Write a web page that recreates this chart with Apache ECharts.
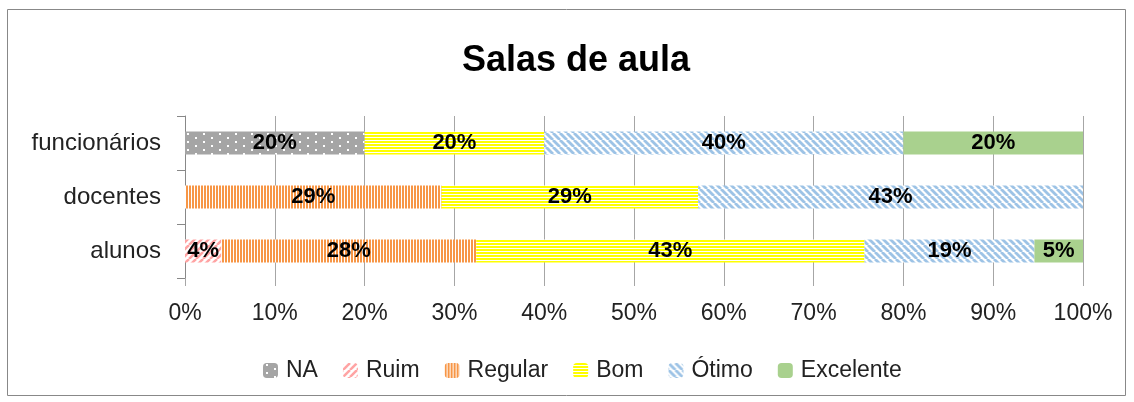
<!DOCTYPE html>
<html><head><meta charset="utf-8">
<script src="https://cdn.jsdelivr.net/npm/echarts@6/dist/echarts.min.js"></script>
<style>html,body{margin:0;padding:0;background:#fff}#c{width:1134px;height:402px}</style>
</head><body><div id="c"></div>
<script>
const categories = ['alunos', 'docentes', 'funcionários'];
const seriesNames = ['NA', 'Ruim', 'Regular', 'Bom', 'Ótimo', 'Excelente'];
const valNA = [null, null, 20];
const valRuim = [4.05, null, null];
const valRegular = [28.38, 28.57, null];
const valBom = [43.24, 28.57, 20];
const valOtimo = [18.92, 42.86, 40];
const valExcelente = [5.41, null, 20];
const xTicks = [0, 10, 20, 30, 40, 50, 60, 70, 80, 90, 100];

function tile(w, h, draw) {
  const c = document.createElement('canvas');
  c.width = w; c.height = h;
  const g = c.getContext('2d');
  draw(g, w, h);
  return { image: c, repeat: 'repeat' };
}
const patNA = tile(16, 8, (g, w, h) => {
  g.fillStyle = '#A5A5A5'; g.fillRect(0, 0, w, h);
  g.fillStyle = '#FFFFFF'; g.fillRect(3, 1, 2, 2); g.fillRect(11, 5, 2, 2);
});
function diag(color, dir, lw) {
  return tile(7, 7, (g, w, h) => {
    g.fillStyle = '#FFFFFF'; g.fillRect(0, 0, w, h);
    g.strokeStyle = color; g.lineWidth = lw;
    for (let x = -7; x <= 7; x += 7) {
      g.beginPath();
      if (dir > 0) { g.moveTo(x, 7); g.lineTo(x + 7, 0); }
      else { g.moveTo(x, 0); g.lineTo(x + 7, 7); }
      g.stroke();
    }
  });
}
const patRuim = diag('#FFA3A3', 1, 2.5);
const patOtimo = diag('#9DC3E6', -1, 2.8);
const patRegular = tile(3, 4, (g, w, h) => {
  g.fillStyle = '#FFFFFF'; g.fillRect(0, 0, w, h);
  g.fillStyle = '#F79646'; g.fillRect(0, 0, 2, h);
});
const patBom = tile(4, 3, (g, w, h) => {
  g.fillStyle = '#FFFFFF'; g.fillRect(0, 0, w, h);
  g.fillStyle = '#FFFF00'; g.fillRect(0, 0, w, 2);
});
const fills = [patNA, patRuim, patRegular, patBom, patOtimo, '#A9D18E'];
const values = [valNA, valRuim, valRegular, valBom, valOtimo, valExcelente];

const FONT = 'Liberation Sans';
const chart = echarts.init(document.getElementById('c'), null, { renderer: 'canvas' });
chart.setOption({
  animation: false,
  textStyle: { fontFamily: FONT },
  graphic: [{
    type: 'rect', shape: { x: 7.5, y: 9.5, width: 1118, height: 386 },
    style: { fill: 'none', stroke: '#888888', lineWidth: 1 }, silent: true, z: -1
  }],
  title: {
    text: 'Salas de aula', left: 457, top: 38,
    textStyle: { fontFamily: FONT, fontWeight: 'bold', fontSize: 36, color: '#000' }
  },
  legend: {
    bottom: 15, left: 258, itemWidth: 15, itemHeight: 15, itemGap: 25,
    textStyle: { fontFamily: FONT, fontSize: 23, color: '#222', padding: [0, 0, 0, 3] },
    data: seriesNames
  },
  grid: { left: 185, right: 51, top: 116, bottom: 124 },
  xAxis: {
    type: 'value', min: xTicks[0], max: xTicks[xTicks.length - 1], interval: 10,
    axisLine: { show: false },
    axisTick: { show: true, length: 8, lineStyle: { color: '#A6A6A6' } },
    splitLine: { show: true, lineStyle: { color: '#A6A6A6', width: 1 } },
    axisLabel: { formatter: '{value}%', fontSize: 23, color: '#222', margin: 24, fontFamily: FONT }
  },
  yAxis: {
    type: 'category', data: categories,
    axisLine: { show: true, lineStyle: { color: '#888888' } },
    axisTick: { show: true, length: 8, lineStyle: { color: '#888888' } },
    axisLabel: { fontSize: 24, color: '#222', margin: 24, fontFamily: FONT }
  },
  series: seriesNames.map((name, i) => ({
    name, type: 'bar', stack: 'total', barWidth: 23,
    data: values[i],
    itemStyle: { color: fills[i] },
    label: {
      show: true, position: 'inside', fontFamily: FONT, fontWeight: 'bold', fontSize: 22, color: '#000',
      formatter: p => (p.value == null ? '' : Math.round(p.value) + '%')
    }
  }))
});
</script></body></html>
